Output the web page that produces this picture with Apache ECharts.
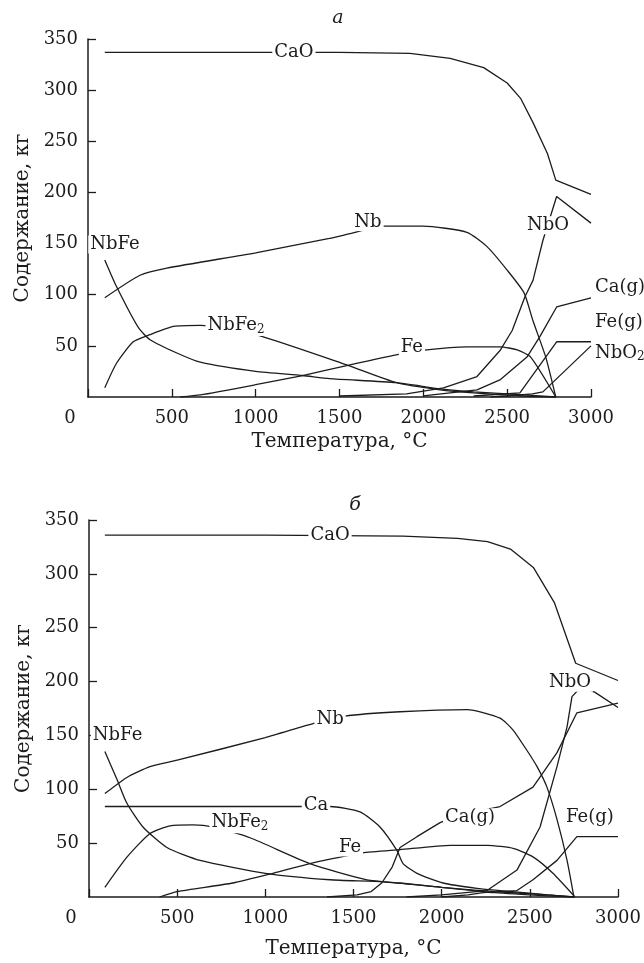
<!DOCTYPE html>
<html lang="ru">
<head>
<meta charset="utf-8">
<title>Содержание, кг — Температура, °C</title>
<script src="https://cdn.jsdelivr.net/npm/echarts@6/dist/echarts.min.js"></script>
<style>
  html, body { margin: 0; padding: 0; background: #fff; }
  #chart { width: 644px; height: 963px; }
</style>
</head>
<body>
<div id="chart"></div>
<script>
// оси
var xTicks = [0, 500, 1000, 1500, 2000, 2500, 3000];
var yTicks = [0, 50, 100, 150, 200, 250, 300, 350];

// панель а: [T, кг]
var aCaO  = [[100,337],[500,337],[1000,337],[1500,337],[1920,336],[2160,331],[2360,322],[2500,307],[2580,292],[2655,268],[2740,238],[2790,212],[3000,198]];
var aNb   = [[100,97],[310,119],[470,126],[1000,141],[1440,155],[1570,160],[1760,167],[2000,167],[2260,161],[2380,147],[2500,124],[2600,102],[2655,74],[2730,39],[2790,0]];
var aNbFe = [[100,134],[170,108],[300,68],[370,56],[530,43],[670,34],[1000,25],[1280,21],[1440,18],[1840,14],[2100,8],[2300,5],[2600,2],[2790,0]];
var aNbFe2 = [[100,9],[170,33],[270,54],[370,61],[510,69],[670,70],[1000,61],[1550,31],[1840,14],[2100,7],[2300,4],[2600,1],[2790,0]];
var aFe   = [[550,0],[670,2],[1000,12],[1280,21],[1550,31],[1830,41],[2020,46],[2260,49],[2460,49],[2560,46],[2640,39],[2790,0]];
var aNbO  = [[1500,1],[1900,3],[2120,9],[2320,20],[2460,46],[2530,65],[2606,98],[2654,114],[2713,153],[2795,196],[3000,170]];
var aCaG  = [[2000,1],[2320,7],[2460,17],[2618,39],[2695,59],[2795,88],[3000,97]];
var aFeG  = [[2300,1],[2576,4],[2795,54],[3000,54]];
var aNbO2 = [[2400,0],[2500,1],[2650,3],[2713,5],[3000,50]];

// панель б
var bCaO  = [[90,336],[500,336],[1000,336],[1780,335],[2090,333],[2260,330],[2390,323],[2520,306],[2640,273],[2760,217],[3000,201]];
var bNb   = [[90,96],[215,111],[346,121],[500,127],[1000,148],[1270,161],[1450,168],[1764,172],[2144,174],[2331,166],[2405,155],[2484,136],[2541,121],[2597,102],[2654,72],[2711,34],[2750,0]];
var bNbFe = [[90,135],[159,109],[215,87],[306,65],[442,46],[630,34],[1000,22],[1367,16],[1670,14],[2000,9],[2300,5],[2600,2],[2750,0]];
var bNbFe2 = [[90,9],[215,37],[346,59],[459,66],[590,67],[703,65],[913,55],[1253,31],[1576,16],[1764,13],[2000,9],[2300,4],[2600,1],[2750,0]];
var bCa   = [[90,84],[1367,84],[1537,79],[1650,65],[1747,43],[1781,31],[1860,22],[2008,13],[2200,8],[2331,6],[2600,2],[2750,0]];
var bFe   = [[400,0],[500,5],[817,13],[1043,22],[1253,31],[1395,36],[1550,41],[1764,44],[2050,48],[2260,48],[2410,45],[2520,37],[2631,22],[2756,0]];
var bCaG  = [[1350,0],[1520,2],[1600,5],[1660,13],[1720,28],[1764,46],[1860,56],[1991,69],[2100,76],[2331,84],[2518,102],[2654,134],[2767,171],[3000,180]];
var bNbO  = [[1800,0],[2000,2],[2257,6],[2427,25],[2558,65],[2654,121],[2711,158],[2739,186],[2790,195],[2870,190],[3000,176]];
var bFeG  = [[2000,0],[2150,2],[2234,4],[2427,6],[2518,16],[2654,34],[2767,56],[3000,56]];

// подписи кривых (координаты T, кг)
var labelsA = {CaO:[1228,337], Nb:[1670,171], NbO:[2743,168], NbFe:[161,149], NbFe2:[883,70], Fe:[1932,49]};
var endLabelsA = {'Ca(g)':[4,-10], 'Fe(g)':[4,-19], NbO2:[4,7]};
var labelsB = {CaO:[1367,336], Nb:[1367,165], NbFe:[162,150], Ca:[1287,85], NbFe2:[856,69], Fe:[1480,46], 'Ca(g)':[2161,74], NbO:[2728,199], 'Fe(g)':[2841,74]};

// плавные кривые (без изломов)
var smoothNames = ['Nb', 'NbFe', 'NbFe2', 'Fe', 'Ca'];

var FONT = 'DejaVu Serif';
var INK = '#1c1c1c';
var richSub = {
  n: {fontFamily: FONT, fontSize: 18, color: INK},
  s: {fontFamily: FONT, fontSize: 12, color: INK, padding: [9, 0, 0, 0]}
};

function labelText(name) {
  if (name === 'NbFe2') return '{n|NbFe}{s|2}';
  if (name === 'NbO2') return '{n|NbO}{s|2}';
  return name;
}

function curve(name, data, gi, labels, endLabels) {
  var s = {
    name: name, type: 'line', xAxisIndex: gi, yAxisIndex: gi,
    data: data, symbol: 'none', silent: true,
    smooth: smoothNames.indexOf(name) >= 0 ? 0.2 : false,
    lineStyle: {color: INK, width: 1.3}
  };
  if (labels && labels[name]) {
    s.markPoint = {
      symbol: 'circle', symbolSize: 0, silent: true,
      data: [{coord: labels[name], value: 0}],
      label: {
        show: true, position: 'inside', formatter: labelText(name),
        fontFamily: FONT, fontSize: 18, color: INK,
        backgroundColor: '#fff', padding: [0, 2], rich: richSub
      }
    };
  }
  if (endLabels && endLabels[name]) {
    s.endLabel = {
      show: true, formatter: labelText(name), distance: 0, offset: endLabels[name],
      fontFamily: FONT, fontSize: 18, color: INK, rich: richSub
    };
  }
  return s;
}

function xAxisFor(gi, gap) {
  return {
    type: 'value', gridIndex: gi, min: xTicks[0], max: xTicks[xTicks.length - 1],
    interval: xTicks[1] - xTicks[0],
    name: 'Температура, °C', nameLocation: 'middle', nameGap: gap,
    nameTextStyle: {fontFamily: FONT, fontSize: 20, color: INK},
    axisLine: {lineStyle: {color: INK, width: 1.5}},
    axisTick: {inside: true, length: 8, lineStyle: {color: INK, width: 1.3}},
    axisLabel: {
      fontFamily: FONT, fontSize: 18, color: INK, margin: 12,
      formatter: function (v) { return v === 0 ? '{z|0}' : String(v); },
      rich: {z: {fontFamily: FONT, fontSize: 18, color: INK, padding: [0, 36, 0, 0]}}
    },
    splitLine: {show: false}
  };
}

function yAxisFor(gi) {
  return {
    type: 'value', gridIndex: gi, min: yTicks[0], max: yTicks[yTicks.length - 1],
    interval: yTicks[1] - yTicks[0],
    name: 'Содержание, кг', nameLocation: 'middle', nameGap: 49,
    nameTextStyle: {fontFamily: FONT, fontSize: 20, color: INK},
    axisLine: {show: true, lineStyle: {color: INK, width: 1.5}},
    axisTick: {show: true, inside: true, length: 8, lineStyle: {color: INK, width: 1.3}},
    axisLabel: {fontFamily: FONT, fontSize: 18, color: INK, margin: 10, showMinLabel: false},
    splitLine: {show: false}
  };
}

var chart = echarts.init(document.getElementById('chart'));

var series = [
  curve('CaO', aCaO, 0, labelsA),
  curve('Nb', aNb, 0, labelsA),
  curve('NbFe', aNbFe, 0, labelsA),
  curve('NbFe2', aNbFe2, 0, labelsA),
  curve('Fe', aFe, 0, labelsA),
  curve('NbO', aNbO, 0, labelsA),
  curve('Ca(g)', aCaG, 0, null, endLabelsA),
  curve('Fe(g)', aFeG, 0, null, endLabelsA),
  curve('NbO2', aNbO2, 0, null, endLabelsA),

  curve('CaO', bCaO, 1, labelsB),
  curve('Nb', bNb, 1, labelsB),
  curve('NbFe', bNbFe, 1, labelsB),
  curve('NbFe2', bNbFe2, 1, labelsB),
  curve('Ca', bCa, 1, labelsB),
  curve('Fe', bFe, 1, labelsB),
  curve('Ca(g)', bCaG, 1, labelsB),
  curve('NbO', bNbO, 1, labelsB),
  curve('Fe(g)', bFeG, 1, labelsB)
];

chart.setOption({
  animation: false,
  backgroundColor: '#fff',
  grid: [
    {left: 88, top: 39, width: 503, height: 358},
    {left: 89, top: 520, width: 529, height: 377}
  ],
  xAxis: [xAxisFor(0, 35), xAxisFor(1, 42)],
  yAxis: [yAxisFor(0), yAxisFor(1)],
  graphic: [
    {type: 'text', x: 338, y: 18, silent: true,
     style: {text: 'а', fontFamily: FONT, fontStyle: 'italic', fontSize: 19, fill: INK, align: 'center', verticalAlign: 'middle'}},
    {type: 'text', x: 355, y: 505, silent: true,
     style: {text: 'б', fontFamily: FONT, fontStyle: 'italic', fontSize: 19, fill: INK, align: 'center', verticalAlign: 'middle'}}
  ],
  series: series
});
</script>
</body>
</html>
